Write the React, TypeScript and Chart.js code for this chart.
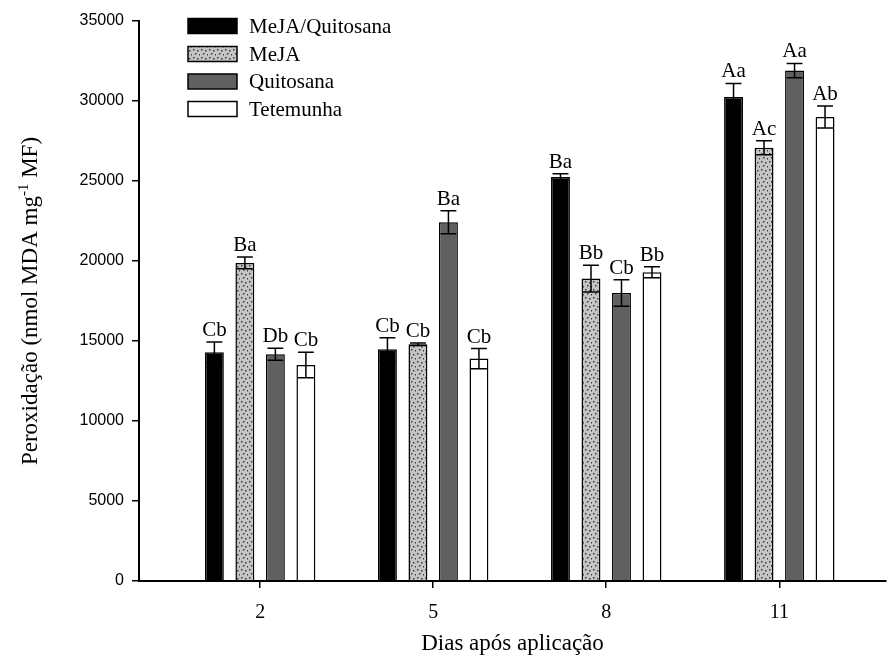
import React, { useEffect, useRef } from "react";
import { Chart, registerables } from "chart.js";

Chart.register(...registerables);

const days = [2, 5, 8, 11];
const seriesNames = ["MeJA/Quitosana", "MeJA", "Quitosana", "Tetemunha"];

const mejaQuit = [14300, 14480, 25250, 30250];
const mejaQuitErr = [640, 720, 200, 850];
const mejaQuitLetters = ["Cb", "Cb", "Ba", "Aa"];

const meja = [19880, 14800, 18900, 27080];
const mejaErr = [370, 80, 830, 440];
const mejaLetters = ["Ba", "Cb", "Bb", "Ac"];

const quit = [14170, 22420, 18000, 31900];
const quitErr = [370, 720, 830, 450];
const quitLetters = ["Db", "Ba", "Cb", "Aa"];

const test = [13500, 13900, 19300, 29000];
const testErr = [800, 630, 340, 680];
const testLetters = ["Cb", "Cb", "Bb", "Ab"];

const yTicks = [0, 5000, 10000, 15000, 20000, 25000, 30000, 35000];

const SERIF = "'Liberation Serif', 'Times New Roman', serif";
const SANS = "'Liberation Sans', Arial, sans-serif";

function makeDotPattern(): CanvasPattern | string {
  const c = document.createElement("canvas");
  c.width = 8;
  c.height = 8;
  const g = c.getContext("2d");
  if (!g) return "#c4c4c4";
  g.fillStyle = "#c4c4c4";
  g.fillRect(0, 0, 8, 8);
  g.fillStyle = "#3a3a3a";
  const dots = [
    [1, 1],
    [5, 2],
    [3, 5],
    [7, 6],
  ];
  dots.forEach(([x, y]) => g.fillRect(x, y, 1.5, 1.5));
  const p = g.createPattern(c, "repeat");
  return p || "#c4c4c4";
}

export default function App() {
  const ref = useRef<HTMLCanvasElement>(null);

  useEffect(() => {
    const canvas = ref.current;
    if (!canvas) return;
    const pattern = makeDotPattern();

    const values = [mejaQuit, meja, quit, test];
    const errs = [mejaQuitErr, mejaErr, quitErr, testErr];
    const letters = [mejaQuitLetters, mejaLetters, quitLetters, testLetters];
    const fills: any[] = ["#000000", pattern, "#606060", "#ffffff"];

    const datasets = values.map((vals, si) => ({
      label: seriesNames[si],
      data: days.map((d, i) => ({ x: d, y: vals[i] })),
      backgroundColor: fills[si],
      borderColor: "#000000",
      borderWidth: 1.5,
      categoryPercentage: 0.705,
      barPercentage: 0.62,
    }));

    const errorPlugin = {
      id: "errorBarsLetters",
      afterDatasetsDraw(chart: any) {
        const ctx = chart.ctx;
        const yScale = chart.scales.y;
        ctx.save();
        chart.data.datasets.forEach((_ds: any, si: number) => {
          const meta = chart.getDatasetMeta(si);
          meta.data.forEach((el: any, i: number) => {
            const v = values[si][i];
            const e = errs[si][i];
            const x = el.x;
            const yTop = yScale.getPixelForValue(v + e);
            const yBot = yScale.getPixelForValue(v - e);
            const half = el.width * 0.42;
            ctx.strokeStyle = "#000";
            ctx.lineWidth = 1.5;
            ctx.beginPath();
            ctx.moveTo(x, yTop);
            ctx.lineTo(x, yBot);
            ctx.moveTo(x - half, yTop);
            ctx.lineTo(x + half, yTop);
            ctx.moveTo(x - half, yBot);
            ctx.lineTo(x + half, yBot);
            ctx.stroke();
            ctx.fillStyle = "#000";
            ctx.font = `21px ${SERIF}`;
            ctx.textAlign = "center";
            ctx.textBaseline = "alphabetic";
            ctx.fillText(letters[si][i], x, yTop - 6);
          });
        });
        ctx.restore();
      },
    };

    const legendPlugin = {
      id: "customLegend",
      afterDraw(chart: any) {
        const ctx = chart.ctx;
        ctx.save();
        const rows = [26, 54, 81.5, 109];
        chart.data.datasets.forEach((ds: any, si: number) => {
          const cy = rows[si];
          ctx.fillStyle = ds.backgroundColor;
          ctx.fillRect(188, cy - 7.5, 49, 15);
          ctx.strokeStyle = "#000";
          ctx.lineWidth = 1.5;
          ctx.strokeRect(188, cy - 7.5, 49, 15);
          ctx.fillStyle = "#000";
          ctx.font = `21px ${SERIF}`;
          ctx.textAlign = "left";
          ctx.textBaseline = "middle";
          ctx.fillText(ds.label, 249, cy + 1);
        });
        ctx.restore();
      },
    };

    const titlesPlugin = {
      id: "axisTitles",
      afterDraw(chart: any) {
        const ctx = chart.ctx;
        const area = chart.chartArea;
        ctx.save();
        ctx.fillStyle = "#000";
        // x title
        ctx.font = `23px ${SERIF}`;
        ctx.textAlign = "center";
        ctx.textBaseline = "alphabetic";
        ctx.fillText("Dias após aplicação", (area.left + area.right) / 2, 650);
        // y title with superscript
        const p1 = "Peroxidação (nmol MDA mg";
        const sup = "-1";
        const p2 = " MF)";
        ctx.font = `23px ${SERIF}`;
        const w1 = ctx.measureText(p1).width;
        const w3 = ctx.measureText(p2).width;
        ctx.font = `15px ${SERIF}`;
        const w2 = ctx.measureText(sup).width;
        const total = w1 + w2 + w3;
        const cy = (area.top + area.bottom) / 2;
        ctx.translate(37, cy);
        ctx.rotate(-Math.PI / 2);
        ctx.textAlign = "left";
        let xx = -total / 2;
        ctx.font = `23px ${SERIF}`;
        ctx.fillText(p1, xx, 0);
        xx += w1;
        ctx.font = `15px ${SERIF}`;
        ctx.fillText(sup, xx, -9);
        xx += w2;
        ctx.font = `23px ${SERIF}`;
        ctx.fillText(p2, xx, 0);
        ctx.restore();
      },
    };

    const chart = new Chart(canvas, {
      type: "bar",
      data: { datasets: datasets as any },
      options: {
        animation: false,
        responsive: false,
        maintainAspectRatio: false,
        layout: { padding: { top: 21, right: 4, left: 0, bottom: 0 } },
        plugins: {
          legend: { display: false },
          tooltip: { enabled: false },
          title: { display: false },
        },
        scales: {
          x: {
            type: "linear",
            offset: false,
            min: -0.1,
            max: 12.85,
            afterBuildTicks: (scale: any) => {
              scale.ticks = days.map((d) => ({ value: d }));
            },
            afterFit: (scale: any) => {
              scale.height = 75;
            },
            ticks: {
              color: "#000",
              font: { family: SERIF, size: 20 },
              padding: 13,
              maxRotation: 0,
              autoSkip: false,
              callback: (v: any) => String(v),
            },
            grid: {
              display: true,
              offset: false,
              drawOnChartArea: false,
              drawTicks: true,
              tickLength: 7,
              color: "#000",
              lineWidth: 1.5,
            },
            border: { display: true, color: "#000", width: 2 },
          },
          y: {
            type: "linear",
            min: 0,
            max: 35000,
            afterBuildTicks: (scale: any) => {
              scale.ticks = yTicks.map((v) => ({ value: v }));
            },
            afterFit: (scale: any) => {
              scale.width = 139;
            },
            ticks: {
              color: "#000",
              font: { family: SANS, size: 16 },
              padding: 8,
              callback: (v: any) => String(v),
            },
            grid: {
              display: true,
              drawOnChartArea: false,
              drawTicks: true,
              tickLength: 7,
              color: "#000",
              lineWidth: 1.5,
            },
            border: { display: true, color: "#000", width: 2 },
          },
        },
      },
      plugins: [errorPlugin, legendPlugin, titlesPlugin],
    });

    return () => {
      chart.destroy();
    };
  }, []);

  return (
    <div
      style={{
        position: "absolute",
        left: 0,
        top: 0,
        width: 890,
        height: 656,
        background: "#fff",
      }}
    >
      <canvas ref={ref} width={890} height={656} style={{ display: "block" }} />
    </div>
  );
}
